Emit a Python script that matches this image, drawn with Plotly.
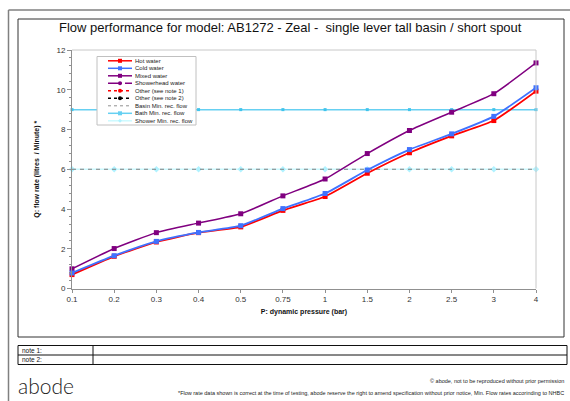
import plotly.graph_objects as go

# ---- data ----
pressure_labels = ["0.1", "0.2", "0.3", "0.4", "0.5", "0.75", "1", "1.5", "2", "2.5", "3", "4"]
hot_water = [0.70, 1.62, 2.34, 2.81, 3.10, 3.93, 4.63, 5.80, 6.83, 7.68, 8.45, 9.93]
cold_water = [0.78, 1.65, 2.37, 2.82, 3.16, 4.02, 4.78, 5.96, 6.99, 7.78, 8.66, 10.10]
mixed_water = [0.99, 2.01, 2.81, 3.29, 3.76, 4.66, 5.51, 6.79, 7.95, 8.87, 9.80, 11.35]
basin_min = [6] * 12
bath_min = [9] * 12
shower_min = [6] * 12

title_text = "Flow performance for model: AB1272 - Zeal -  single lever tall basin / short spout"
x_title = "P: dynamic pressure (bar)"
y_title = "Q: flow rate (litres  / Minute) *"

W, H = 570, 401
FONT = "Liberation Sans, Arial, sans-serif"


def px(x):
    return x / W


def py(y):
    return 1 - y / H


xi = list(range(len(pressure_labels)))

fig = go.Figure()

# reference lines
fig.add_trace(go.Scatter(x=xi, y=shower_min, mode="lines+markers",
                         line=dict(color="#CCFAFF", width=1.5),
                         marker=dict(symbol="diamond", size=5, color="#B0F2FF"),
                         cliponaxis=False, showlegend=False))
fig.add_trace(go.Scatter(x=xi, y=basin_min, mode="lines",
                         line=dict(color="#808080", width=1, dash="4px,4px"),
                         cliponaxis=False, showlegend=False))
fig.add_trace(go.Scatter(x=xi, y=bath_min, mode="lines+markers",
                         line=dict(color="#66D0F2", width=1.5),
                         marker=dict(symbol="square", size=3, color="#40C4EC"),
                         cliponaxis=False, showlegend=False))

# measured series
for vals, col, lw in [(mixed_water, "#800080", 1.5), (hot_water, "#FF0000", 1.8), (cold_water, "#3F72FF", 1.8)]:
    fig.add_trace(go.Scatter(x=xi, y=vals, mode="lines+markers",
                             line=dict(color=col, width=lw, shape="spline", smoothing=0.5),
                             marker=dict(symbol="square", size=5, color=col),
                             cliponaxis=False, showlegend=False))

# plot area geometry (window pixels)
PL, PR, PT, PB = 72, 536, 50, 288.5

fig.update_layout(
    width=W, height=H,
    margin=dict(l=0, r=0, t=0, b=0, pad=0),
    paper_bgcolor="white", plot_bgcolor="white",
    font=dict(family=FONT, size=8, color="#222"),
    showlegend=False,
    xaxis=dict(domain=[px(PL), px(PR)], range=[0, len(xi) - 1], automargin=False,
               tickvals=xi, ticktext=pressure_labels,
               showgrid=False, zeroline=False, showline=True, linecolor="#909090", linewidth=1,
               ticks="outside", ticklen=3, tickcolor="#909090",
               tickfont=dict(size=8, color="#333"),
               title=dict(text="<b>" + x_title + "</b>", font=dict(size=7, color="#111"), standoff=6)),
    yaxis=dict(domain=[py(PB), py(PT)], range=[0, 12], dtick=2, automargin=False,
               showgrid=False, zeroline=False, showline=True, linecolor="#909090", linewidth=1,
               ticks="outside", ticklen=4, tickcolor="#909090",
               minor=dict(dtick=0.4, ticks="outside", ticklen=2, tickcolor="#909090"),
               tickfont=dict(size=8, color="#333"),
               title=dict(text="<b>" + y_title + "</b>", font=dict(size=7, color="#111"), standoff=16)),
)

shapes = []
# outer frame lines
shapes.append(dict(type="line", xref="paper", yref="paper", x0=px(8.5), x1=px(570), y0=py(10), y1=py(10),
                   line=dict(color="#808080", width=1.5)))
shapes.append(dict(type="line", xref="paper", yref="paper", x0=px(8.5), x1=px(8.5), y0=py(10), y1=py(401),
                   line=dict(color="#808080", width=1.5)))
# inner chart box
shapes.append(dict(type="rect", xref="paper", yref="paper", x0=px(18), x1=px(564), y0=py(337), y1=py(19),
                   line=dict(color="#333", width=1)))
# plot area border (top / right)
shapes.append(dict(type="line", xref="paper", yref="paper", x0=px(PL), x1=px(PR), y0=py(PT), y1=py(PT),
                   line=dict(color="#C8C8C8", width=1)))
shapes.append(dict(type="line", xref="paper", yref="paper", x0=px(PR), x1=px(PR), y0=py(PT), y1=py(PB),
                   line=dict(color="#C8C8C8", width=1)))
# notes table
shapes.append(dict(type="rect", xref="paper", yref="paper", x0=px(18), x1=px(567), y0=py(364.5), y1=py(345.5),
                   line=dict(color="#111", width=1)))
shapes.append(dict(type="line", xref="paper", yref="paper", x0=px(18), x1=px(567), y0=py(355), y1=py(355),
                   line=dict(color="#111", width=1)))
shapes.append(dict(type="line", xref="paper", yref="paper", x0=px(93), x1=px(93), y0=py(345.5), y1=py(364.5),
                   line=dict(color="#111", width=1)))

annotations = []
annotations.append(dict(text=title_text, xref="paper", yref="paper", x=px(290), y=py(28),
                        xanchor="center", yanchor="middle", showarrow=False,
                        font=dict(size=13, color="#111", family=FONT)))
annotations.append(dict(text="note 1:", xref="paper", yref="paper", x=px(19.5), y=py(350.3),
                        xanchor="left", yanchor="middle", showarrow=False, font=dict(size=6.5, color="#111")))
annotations.append(dict(text="note 2:", xref="paper", yref="paper", x=px(19.5), y=py(359.8),
                        xanchor="left", yanchor="middle", showarrow=False, font=dict(size=6.5, color="#111")))
annotations.append(dict(text="abode", xref="paper", yref="paper", x=px(16), y=py(385),
                        xanchor="left", yanchor="middle", showarrow=False,
                        font=dict(size=21, color="#222", family="Lato, Noto Sans, sans-serif", weight=300)))
annotations.append(dict(text="© abode, not to be reproduced without prior permission", xref="paper", yref="paper",
                        x=px(566), y=py(381), xanchor="right", yanchor="middle", showarrow=False,
                        font=dict(size=5.5, color="#222")))
annotations.append(dict(text="*Flow rate data shown is correct at the time of testing, abode reserve the right to amend specification without prior notice, Min. Flow rates accorinding to NHBC",
                        xref="paper", yref="paper", x=px(566), y=py(392.5), xanchor="right", yanchor="middle",
                        showarrow=False, font=dict(size=5.5, color="#222")))

# custom compact legend
legend_items = [
    ("Hot water", "#FF0000", "solid", "square", 1.5),
    ("Cold water", "#3F72FF", "solid", "square", 1.5),
    ("Mixed water", "#800080", "solid", "square", 1.5),
    ("Showerhead water", "#800080", "longdash", "circle", 1.5),
    ("Other (see note 1)", "#FF0000", "dash", "circle", 1.5),
    ("Other (see note 2)", "#000000", "dash", "circle", 1.5),
    ("Basin Min. rec. flow", "#909090", "dash", None, 1),
    ("Bath Min. rec. flow", "#66D0F2", "solid", "square", 1.5),
    ("Shower Min. rec. flow", "#CCFAFF", "solid", "diamond", 1.5),
]
LX0, LX1, LY0, LY1 = 97, 196, 56.5, 125
shapes.append(dict(type="rect", xref="paper", yref="paper", x0=px(LX0), x1=px(LX1), y0=py(LY1), y1=py(LY0),
                   line=dict(color="#C0C0C0", width=1), fillcolor="white", layer="above"))
for k, (name, col, dash, sym, lw) in enumerate(legend_items):
    yc = 60.8 + k * 7.5
    dash_map = {"solid": "solid", "dash": "3px,3px", "longdash": "14px,3px"}
    shapes.append(dict(type="line", xref="paper", yref="paper", x0=px(108), x1=px(132), y0=py(yc), y1=py(yc),
                       line=dict(color=col, width=lw, dash=dash_map[dash]), layer="above"))
    if sym == "square":
        shapes.append(dict(type="rect", xref="paper", yref="paper", x0=px(118), x1=px(122), y0=py(yc + 2),
                           y1=py(yc - 2), line=dict(width=0), fillcolor=col, layer="above"))
    elif sym == "circle":
        shapes.append(dict(type="circle", xref="paper", yref="paper", x0=px(118), x1=px(122), y0=py(yc + 2),
                           y1=py(yc - 2), line=dict(width=0), fillcolor=col, layer="above"))
    elif sym == "diamond":
        shapes.append(dict(type="path", xref="paper", yref="paper",
                           path=f"M {px(120)},{py(yc-2)} L {px(122)},{py(yc)} L {px(120)},{py(yc+2)} L {px(118)},{py(yc)} Z",
                           line=dict(width=0), fillcolor="#B0F2FF", layer="above"))
    annotations.append(dict(text=name, xref="paper", yref="paper", x=px(132.5), y=py(yc),
                            xanchor="left", yanchor="middle", showarrow=False,
                            font=dict(size=6, color="#222")))

fig.update_layout(shapes=shapes, annotations=annotations)
fig.write_html("out.html", config={"displayModeBar": False},
               post_script="document.body.style.margin='0';document.body.style.overflow='hidden';")
